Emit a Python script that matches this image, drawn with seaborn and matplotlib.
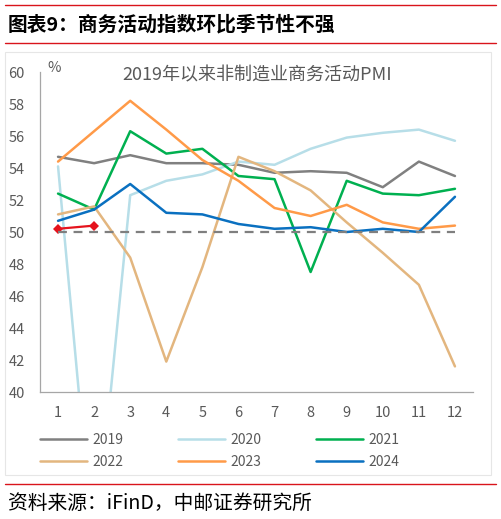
import matplotlib
matplotlib.use("Agg")
import matplotlib.pyplot as plt
from matplotlib.patches import Rectangle
from matplotlib.lines import Line2D
import pandas as pd
import seaborn as sns

# monthly non-manufacturing business activity index
months = list(range(1, 13))
pmi_2019 = [54.7, 54.3, 54.8, 54.3, 54.3, 54.2, 53.7, 53.8, 53.7, 52.8, 54.4, 53.5]
pmi_2020 = [54.1, 29.6, 52.3, 53.2, 53.6, 54.4, 54.2, 55.2, 55.9, 56.2, 56.4, 55.7]
pmi_2021 = [52.4, 51.4, 56.3, 54.9, 55.2, 53.5, 53.3, 47.5, 53.2, 52.4, 52.3, 52.7]
pmi_2022 = [51.1, 51.6, 48.4, 41.9, 47.8, 54.7, 53.8, 52.6, 50.6, 48.7, 46.7, 41.6]
pmi_2023 = [54.4, 56.3, 58.2, 56.4, 54.5, 53.2, 51.5, 51.0, 51.7, 50.6, 50.2, 50.4]
pmi_2024 = [50.7, 51.4, 53.0, 51.2, 51.1, 50.5, 50.2, 50.3, 50.0, 50.2, 50.0, 52.2]
months_2025 = [1, 2]
pmi_2025 = [50.2, 50.4]
ref_level = 50

years = ["2019", "2020", "2021", "2022", "2023", "2024"]
series = [pmi_2019, pmi_2020, pmi_2021, pmi_2022, pmi_2023, pmi_2024]
colors = ["#808080", "#B7DEE8", "#00B050", "#E3B67F", "#FF9A48", "#0A70C0"]

df = pd.DataFrame(
    [(m, v, y) for y, vals in zip(years, series) for m, v in zip(months, vals)],
    columns=["month", "value", "year"])

sns.set_style("white")
plt.rcParams["font.family"] = ["Noto Sans CJK SC", "DejaVu Sans"]

fig = plt.figure(figsize=(5.01, 5.19), dpi=100)
ax = fig.add_axes([40 / 501, 1 - 392 / 519, 433 / 501, 320 / 519])

sns.lineplot(data=df, x="month", y="value", hue="year", palette=colors,
             linewidth=1.8, ax=ax, legend=False)
sns.lineplot(x=months_2025, y=pmi_2025, color="#E5131D", linewidth=1.6,
             marker="D", markersize=5, markeredgewidth=0, ax=ax)
ax.hlines(ref_level, 1, 12, colors="#7F7F7F", linestyles=(0, (4, 3)), linewidth=1.6)

ax.set_xlim(0.5, 12.5)
ax.set_ylim(40, 60)
ax.set_yticks(range(40, 61, 2))
ax.set_xticks(months)
ax.set_xticks([m - 0.5 for m in months] + [12.5], minor=True)
ax.tick_params(axis="x", which="major", length=0, pad=10, labelsize=10.5, labelcolor="#595959")
ax.tick_params(axis="x", which="minor", length=4, width=0.8, color="#A6A6A6", direction="out")
ax.tick_params(axis="y", length=4, width=0.8, color="#A6A6A6", direction="out", pad=7,
               labelsize=10.5, labelcolor="#595959")
ax.set_xlabel("")
ax.set_ylabel("")
for s in ["top", "right"]:
    ax.spines[s].set_visible(False)
for s in ["left", "bottom"]:
    ax.spines[s].set_color("#A6A6A6")
    ax.spines[s].set_linewidth(0.9)

fig.text(47 / 501, 1 - 68 / 519, "%", fontsize=10.5, color="#595959", ha="left", va="center")
fig.text(257 / 501, 1 - 75 / 519, "2019年以来非制造业商务活动PMI", fontsize=13,
         color="#595959", ha="center", va="center")

# legend row-major
order = [0, 3, 1, 4, 2, 5]
handles = [Line2D([], [], color=colors[i], linewidth=1.8) for i in order]
labels = [years[i] for i in order]
fig.legend(handles, labels, ncol=3, loc="upper left", bbox_to_anchor=(40 / 501, 1 - 433 / 519),
           frameon=False, fontsize=10, handlelength=3.4, handletextpad=0.4,
           columnspacing=3.9, labelspacing=0.55, borderpad=0, borderaxespad=0,
           labelcolor="#595959")

# frame and header decorations
fig.add_artist(Rectangle((5 / 501, 1 - 475 / 519), 486 / 501, 423 / 519, transform=fig.transFigure,
                         fill=False, edgecolor="#E6E6E6", linewidth=0.8))
for yy in [5, 43, 484]:
    fig.add_artist(Line2D([5 / 501, 496 / 501], [1 - yy / 519, 1 - yy / 519],
                          transform=fig.transFigure, color="#D9141B", linewidth=1.0))
fig.text(8 / 501, 1 - 25 / 519, "图表9：商务活动指数环比季节性不强", fontsize=14.2,
         fontweight="bold", color="black", ha="left", va="center")
fig.text(8 / 501, 1 - 503 / 519, "资料来源：iFinD，中邮证券研究所", fontsize=14.2,
         color="black", ha="left", va="center")

fig.savefig("out.png", dpi=100)
